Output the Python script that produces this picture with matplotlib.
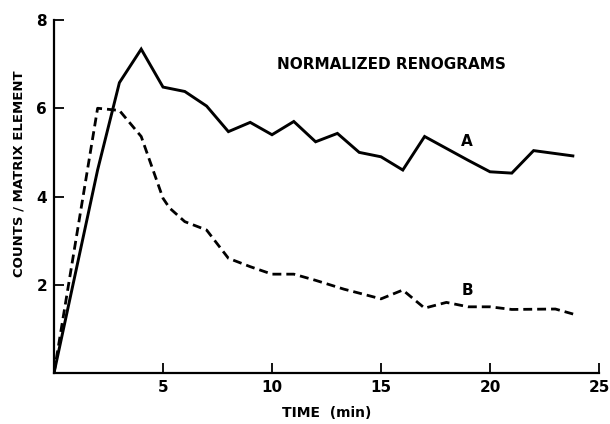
import matplotlib.pyplot as plt

# time in minutes
t_a = [0, 2, 3, 4, 5, 6, 7, 8, 9, 10, 11, 12, 13, 14, 15, 16, 17, 18, 19, 20, 21, 22, 23.8]
counts_a = [0, 4.6, 6.58, 7.34, 6.48, 6.38, 6.05, 5.47, 5.68, 5.40, 5.70, 5.24, 5.43, 5.0, 4.9,
            4.6, 5.36, 5.09, 4.82, 4.56, 4.53, 5.04, 4.92]

t_b = [0, 2, 3, 4, 5, 5.3, 6, 7, 8, 9, 10, 11, 12, 13.3, 14, 15, 16, 17, 18, 19, 20, 21, 23, 24]
counts_b = [0, 6.0, 5.95, 5.36, 3.96, 3.74, 3.43, 3.24, 2.6, 2.41, 2.24, 2.24, 2.1, 1.9,
            1.81, 1.68, 1.88, 1.47, 1.6, 1.5, 1.5, 1.44, 1.45, 1.31]

x_ticks = [5, 10, 15, 20, 25]
y_ticks = [2, 4, 6, 8]

plt.rcParams['font.family'] = 'DejaVu Sans'
plt.rcParams['font.weight'] = 'bold'

fig = plt.figure(figsize=(6.1, 4.24), dpi=100)
ax = fig.add_axes([54 / 610, 1 - 373 / 424, (599 - 54) / 610, (373 - 20) / 424])

ax.plot(t_a, counts_a, color='black', lw=2.1, solid_joinstyle='miter')
ax.plot(t_b, counts_b, color='black', lw=2.0, dashes=(3.2, 1.8))

ax.set_xlim(0, 25)
ax.set_ylim(0, 8)
ax.set_xticks(x_ticks)
ax.set_yticks(y_ticks)
ax.tick_params(direction='in', length=7, width=1.3, labelsize=11, pad=5)
for lab in ax.get_xticklabels() + ax.get_yticklabels():
    lab.set_fontweight('bold')

for s in ['top', 'right']:
    ax.spines[s].set_visible(False)
for s in ['left', 'bottom']:
    ax.spines[s].set_linewidth(1.6)

ax.text(15.5, 7.0, 'NORMALIZED RENOGRAMS', ha='center', va='center',
        fontsize=11, fontweight='heavy')
ax.text(18.95, 5.24, 'A', ha='center', va='center', fontsize=11, fontweight='bold')
ax.text(18.95, 1.86, 'B', ha='center', va='center', fontsize=11, fontweight='bold')

ax.set_xlabel('TIME  (min)', fontsize=10, fontweight='bold', labelpad=8)
ax.set_ylabel('COUNTS / MATRIX ELEMENT', fontsize=9.5, fontweight='bold')
ax.yaxis.set_label_coords(-0.052, 0.564)

fig.savefig('out.png', dpi=100)
